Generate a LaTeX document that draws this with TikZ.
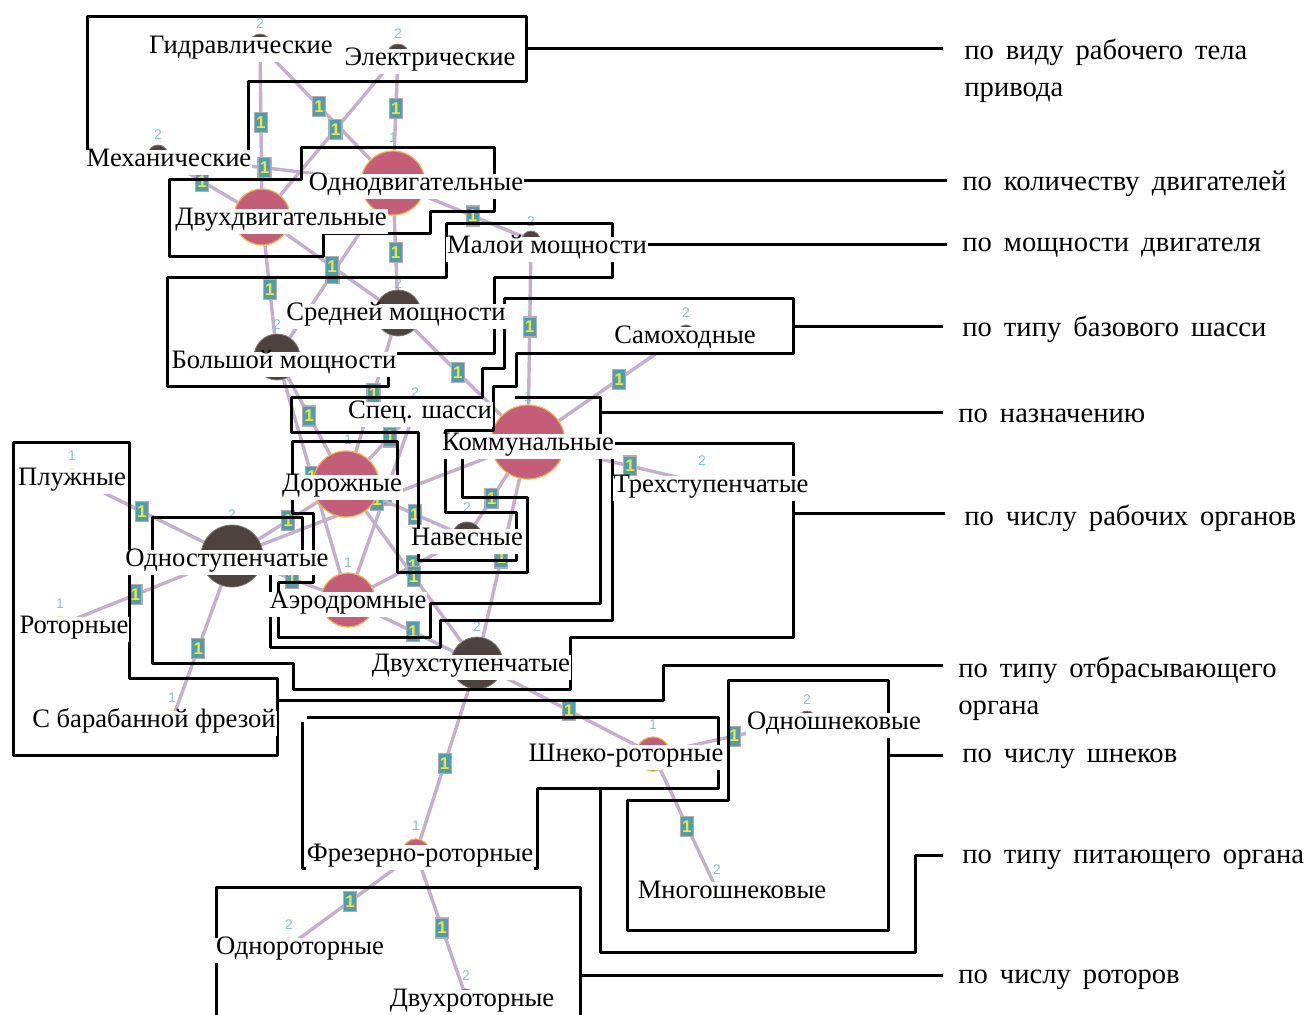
\documentclass[tikz,border=0pt]{standalone}
\usepackage{fontspec}
\setmainfont{Liberation Serif}
\newfontfamily\numfont{Liberation Sans}
\definecolor{edgec}{RGB}{196,176,204}
\definecolor{pinkc}{RGB}{196,94,120}
\definecolor{ringc}{RGB}{240,180,70}
\definecolor{darkc}{RGB}{78,66,64}
\definecolor{labfill}{RGB}{78,158,172}
\definecolor{labdraw}{RGB}{180,170,190}
\definecolor{labtext}{RGB}{242,228,60}
\definecolor{numc}{RGB}{135,195,205}
\newcommand\widewords{\spaceskip=0.42em plus 0.1em\relax}
\pgfdeclarelayer{bglayer}
\pgfdeclarelayer{edgelayer}
\pgfsetlayers{bglayer,edgelayer,main}
\begin{document}
\begin{tikzpicture}[x=0.5pt,y=-0.5pt,
 conn/.style={draw=edgec,line width=1.7pt},
 elab/.style={fill=labfill,draw=labdraw,line width=0.6pt,inner sep=0pt,minimum width=6.5pt,minimum height=10pt,text=labtext,font=\numfont\bfseries\fontsize{8.5}{8.5}\selectfont},
 pn/.style={circle,fill=pinkc,draw=ringc,line width=0.6pt,inner sep=0pt},
 dn/.style={circle,fill=darkc,draw=darkc!70!white,line width=0.4pt,inner sep=0pt},
 lbl/.style={fill=white,inner xsep=0.5pt,inner ysep=0pt,text height=8.5pt,text depth=4pt,font=\fontsize{13.3}{14}\selectfont},
 numlbl/.style={text=numc,inner sep=0pt,font=\numfont\fontsize{7}{7}\selectfont},
 grp/.style={draw=black,line width=1.5pt,line join=round},
 cat/.style={anchor=west,align=left,inner sep=0pt,font=\fontsize{14.3}{18.5}\selectfont\widewords}]
\begin{pgfonlayer}{bglayer}
\fill[white] (0,0) rectangle (1312,1014);
\end{pgfonlayer}
\useasboundingbox (0,0) rectangle (1312,1014);

% graph nodes (circles)
\node[dn,minimum size=11pt] (H) at (260,45) {};
\node[dn,minimum size=11pt] (E) at (398,55) {};
\node[dn,minimum size=10pt] (M) at (158,155) {};
\node[pn,minimum size=32pt] (O1) at (393,183) {};
\node[pn,minimum size=28pt] (D2) at (262,217) {};
\node[dn,minimum size=9pt] (Ml) at (531,240) {};
\node[dn,minimum size=23pt] (Sr) at (398,313) {};
\node[dn,minimum size=23pt] (Bl) at (277,357) {};
\node[dn,minimum size=8pt] (Sm) at (686,333) {};
\node[dn,minimum size=6pt] (Sp) at (415,410) {};
\node[pn,minimum size=37pt] (K) at (528,442) {};
\node[pn,minimum size=33pt] (Dr) at (346,484) {};
\node[dn,minimum size=6pt] (S3) at (702,483) {};
\node[dn,minimum size=15pt] (Nv) at (467,537) {};
\node[dn,minimum size=31pt] (S1) at (232,556) {};
\node[pn,minimum size=8pt] (P) at (72,477) {};
\node[pn,minimum size=27pt] (Ae) at (348,600) {};
\node[pn,minimum size=8pt] (R) at (60,625) {};
\node[dn,minimum size=26pt] (S2) at (477,663) {};
\node[pn,minimum size=9pt] (F) at (172,720) {};
\node[pn,minimum size=17pt] (SR) at (653,754) {};
\node[dn,minimum size=9pt] (Os) at (807,720) {};
\node[pn,minimum size=14pt] (FR) at (416,853) {};
\node[dn,minimum size=8pt] (Ms) at (717,890) {};
\node[dn,minimum size=8pt] (Or) at (289,946) {};
\node[dn,minimum size=8pt] (Dv) at (466,997) {};

% edges
\begin{pgfonlayer}{edgelayer}
\foreach \a/\b in {H/D2,H/O1,E/D2,E/O1,M/O1,M/D2,O1/Ml,O1/Sr,O1/Bl,D2/Sr,D2/Bl,
  Ml/K,Sr/K,Sr/Dr,Bl/Dr,Bl/Ae,Sm/K,Sp/Dr,Sp/Ae,Nv/K,Nv/Dr,Nv/Ae,
  K/S1,K/S2,K/S3,Dr/S1,Dr/S2,Ae/S1,Ae/S2,S1/P,S1/R,S1/F,S2/FR,S2/SR,
  SR/Os,SR/Ms,FR/Or,FR/Dv}
  \draw[conn] (\a) -- node[elab]{1} (\b);
\end{pgfonlayer}

% small weight numbers above nodes
\node[numlbl] (nH) at (260,24) {2};
\node[numlbl] (nE) at (398,34) {2};
\node[numlbl] (nM) at (158,135) {2};
\node[numlbl] (nO1) at (393,138) {1};
\node[numlbl] (nMl) at (531,222) {2};
\node[numlbl] (nSr) at (398,284) {2};
\node[numlbl] (nBl) at (277,325) {2};
\node[numlbl] (nSm) at (686,313) {2};
\node[numlbl] (nSp) at (415,393) {2};
\node[numlbl] (nK) at (528,397) {1};
\node[numlbl] (nDr) at (348,440) {1};
\node[numlbl] (nS3) at (702,461) {2};
\node[numlbl] (nNv) at (467,508) {2};
\node[numlbl] (nS1) at (232,515) {2};
\node[numlbl] (nP) at (72,456) {1};
\node[numlbl] (nAe) at (348,563) {1};
\node[numlbl] (nR) at (60,604) {1};
\node[numlbl] (nS2) at (477,627) {2};
\node[numlbl] (nF) at (172,698) {1};
\node[numlbl] (nSR) at (653,725) {1};
\node[numlbl] (nOs) at (807,700) {2};
\node[numlbl] (nFR) at (416,826) {1};
\node[numlbl] (nMs) at (717,870) {2};
\node[numlbl] (nOr) at (289,925) {2};
\node[numlbl] (nDv) at (466,976) {2};

% group outlines
\draw[grp] (87,16) -- (526,16) -- (526,81) -- (248,81) -- (248,167) -- (87,167) -- cycle;
\draw[grp] (301,147) -- (494,147) -- (494,211) -- (430,211) -- (430,233) -- (323,233) -- (323,256) -- (169,256) -- (169,179) -- (301,179) -- cycle;
\draw[grp] (167,277) -- (446,277) -- (446,223) -- (612,223) -- (612,277) -- (494,277) -- (494,353) -- (388,353) -- (388,386) -- (167,386) -- cycle;
\draw[grp] (504,298) -- (793,298) -- (793,353) -- (516,353) -- (516,386) -- (493,386) -- (493,430) -- (445,430) -- (445,512) -- (516,512) -- (516,560) -- (418,560) -- (418,432) -- (291,432) -- (291,397) -- (482,397) -- (482,368) -- (504,368) -- cycle;
\draw[grp] (515,397) -- (600,397) -- (600,603) -- (430,603) -- (430,637) -- (278,637) -- (278,582) -- (313,582) -- (313,513) -- (292,513) -- (292,441) -- (397,441) -- (397,572) -- (527,572) -- (527,497) -- (462,497) -- (462,440);
\draw[grp] (152,517) -- (302,517) -- (302,570) -- (270,570) -- (270,647) -- (440,647) -- (440,620) -- (612,620) -- (612,443) -- (793,443) -- (793,637) -- (570,637) -- (570,689) -- (293,689) -- (293,663) -- (152,663) -- cycle;
\draw[grp] (13,442) -- (129,442) -- (129,678) -- (277,678) -- (277,755) -- (13,755) -- cycle;
\draw[grp] (302,722) -- (302,868) -- (537,868) -- (537,788) -- (718,788) -- (718,717) -- (307,717);
\draw[grp] (728,680) -- (888,680) -- (888,930) -- (627,930) -- (627,800) -- (728,800) -- cycle;
\draw[grp] (216,1020) -- (216,887) -- (580,887) -- (580,1020);

% connectors from groups to category captions
\coordinate (a1) at (526,48);  \coordinate (b1) at (943,48);
\coordinate (a2) at (494,180); \coordinate (b2) at (947,180);
\coordinate (a3) at (612,244); \coordinate (b3) at (947,244);
\coordinate (a4) at (793,326); \coordinate (b4) at (943,326);
\coordinate (a5) at (600,412); \coordinate (b5) at (943,412);
\coordinate (a6) at (793,513); \coordinate (b6) at (945,513);
\coordinate (a7) at (277,700); \coordinate (b7) at (943,665);
\coordinate (a8) at (888,755); \coordinate (b8) at (943,755);
\coordinate (a9) at (600,788); \coordinate (b9) at (943,855);
\coordinate (a10) at (580,975); \coordinate (b10) at (943,975);
\draw[grp] (a1) -- (b1);
\draw[grp] (a2) -- (b2);
\draw[grp] (a3) -- (b3);
\draw[grp] (a4) -- (b4);
\draw[grp] (a5) -- (b5);
\draw[grp] (a6) -- (b6);
\draw[grp] (a7) -- (663,700) -- (663,665) -- (b7);
\draw[grp] (a8) -- (b8);
\draw[grp] (a9) -- (600,952) -- (915,952) -- (915,855) -- (b9);
\draw[grp] (a10) -- (b10);

% node texts
\node[lbl] (tH) at (241,49) {Гидравлические};
\node[lbl] (tE) at (430,61) {Электрические};
\node[lbl] (tM) at (169,162) {Механические};
\node[lbl] (tO1) at (416,186) {Однодвигательные};
\node[lbl] (tD2) at (281,221) {Двухдвигательные};
\node[lbl] (tMl) at (547,249) {Малой мощности};
\node[lbl] (tSr) at (396,316) {Средней мощности};
\node[lbl] (tBl) at (284,364) {Большой мощности};
\node[lbl] (tSm) at (685,339) {Самоходные};
\node[lbl] (tSp) at (420,414) {Спец. шасси};
\node[lbl] (tK) at (528,446) {Коммунальные};
\node[lbl] (tDr) at (342,487) {Дорожные};
\node[lbl] (tS3) at (711,488) {Трехступенчатые};
\node[lbl] (tNv) at (467,541) {Навесные};
\node[lbl] (tS1) at (227,562) {Одноступенчатые};
\node[lbl] (tP) at (72,481) {Плужные};
\node[lbl] (tAe) at (348,604) {Аэродромные};
\node[lbl] (tR) at (74,629) {Роторные};
\node[lbl] (tS2) at (471,667) {Двухступенчатые};
\node[lbl] (tF) at (154,723) {С барабанной фрезой};
\node[lbl] (tSR) at (626,757) {Шнеко-роторные};
\node[lbl] (tOs) at (834,725) {Одношнековые};
\node[lbl] (tFR) at (420,857) {Фрезерно-роторные};
\node[lbl] (tMs) at (732,894) {Многошнековые};
\node[lbl] (tOr) at (300,950) {Однороторные};
\node[lbl] (tDv) at (472,1002) {Двухроторные};

% category captions
\node[cat] (c1) at (964,71) {по виду рабочего тела\\привода};
\node[cat] (c2) at (962,184) {по количеству двигателей};
\node[cat] (c3) at (962,248) {по мощности двигателя};
\node[cat] (c4) at (962,329) {по типу базового шасси};
\node[cat] (c5) at (958,416) {по назначению};
\node[cat] (c6) at (964,518) {по числу рабочих органов};
\node[cat] (c7) at (958,689) {по типу отбрасывающего\\органа};
\node[cat] (c8) at (962,759) {по числу шнеков};
\node[cat] (c9) at (962,860) {по типу питающего органа};
\node[cat] (c10) at (958,980) {по числу роторов};
\end{tikzpicture}
\end{document}
